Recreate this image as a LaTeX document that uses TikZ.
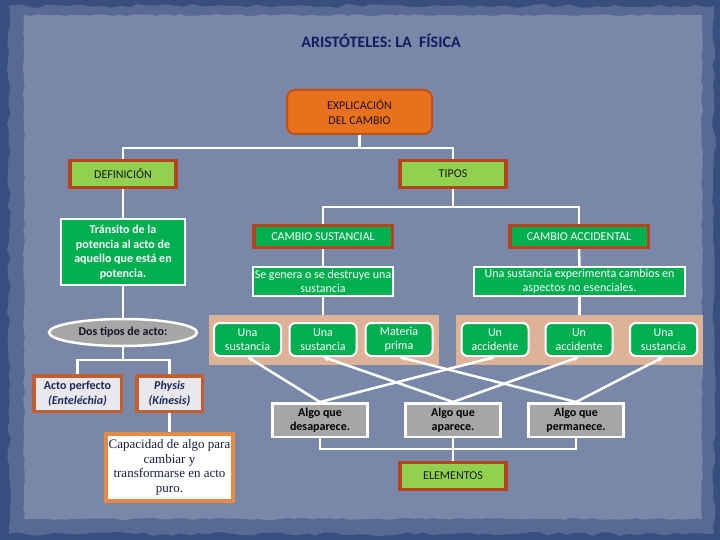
\documentclass[tikz,border=0pt]{standalone}
\usepackage{fontspec}
\setmainfont{Carlito}
\newfontfamily\serifcap{Liberation Serif}
\usetikzlibrary{arrows.meta,shapes.geometric,decorations.pathmorphing}

\begin{document}
\begin{tikzpicture}[x=1pt,y=1pt,yscale=-1,
  every node/.style={inner sep=1pt,align=center,font=\fontsize{12}{14.5}\selectfont},
  conn/.style={draw=white,line width=2.5},
  link/.style={conn,-{Stealth[length=6pt,width=5pt]}},
  headbox/.style={draw={rgb,255:red,184;green,68;blue,28},line width=3.5,fill={rgb,255:red,146;green,208;blue,80},text={rgb,255:red,25;green,25;blue,25},minimum width=106,minimum height=27},
  typebox/.style={headbox,fill={rgb,255:red,0;green,176;blue,80},text=white,minimum width=138.5,minimum height=21.5},
  greenbox/.style={draw=white,line width=2,fill={rgb,255:red,0;green,176;blue,80},text=white,inner sep=0.5pt},
  itembox/.style={greenbox,rounded corners=6,minimum width=67,minimum height=33,inner sep=0pt},
  panel/.style={fill={rgb,255:red,222;green,178;blue,150},minimum height=50},
  greybox/.style={draw=white,line width=2.5,fill={rgb,255:red,166;green,166;blue,166},font=\fontsize{12}{14.5}\selectfont\bfseries,minimum width=95,minimum height=33.5},
  actobox/.style={draw={rgb,255:red,196;green,94;blue,46},line width=3.5,fill={rgb,255:red,232;green,232;blue,238},text={rgb,255:red,28;green,40;blue,90},font=\fontsize{12}{14.5}\selectfont\bfseries,minimum height=35.5}]
\useasboundingbox (0,0) rectangle (720,540);
\pgfmathsetseed{3}

%Shape: Background
\fill[fill={rgb,255:red,56;green,78;blue,126}] (0,0) rectangle (720,540);
\fill[fill={rgb,255:red,88;green,106;blue,148},decorate,decoration={random steps,segment length=9,amplitude=2}] (9,6) rectangle (714,534);
\fill[fill={rgb,255:red,121;green,135;blue,168},decorate,decoration={random steps,segment length=6,amplitude=1}] (24,15) rectangle (702,519);

% Text Node
\node (title) at (381,41) [text={rgb,255:red,18;green,28;blue,96},font=\fontsize{16}{19}\selectfont\bfseries] {ARISTÓTELES: LA~~FÍSICA};

%Shape: Rounded Rectangle
\node (explic) at (359.5,112) [draw={rgb,255:red,196;green,80;blue,20},line width=2,fill={rgb,255:red,232;green,113;blue,29},rounded corners=8,minimum width=145,minimum height=44,text={rgb,255:red,30;green,20;blue,20}] {EXPLICACIÓN\\DEL CAMBIO};

%Shape: Rectangle
\node (def) at (123,174) [headbox] {DEFINICIÓN};
\node (tipos) at (453,174) [headbox] {TIPOS};
\node (transito) at (123,252) [greenbox,font=\fontsize{12}{14.5}\selectfont\bfseries,minimum width=124,minimum height=65] {Tránsito de la\\potencia al acto de\\aquello que está en\\potencia.};

%Shape: Ellipse
\node (dos) at (123,332.5) [ellipse,draw=white,line width=2.5,fill={rgb,255:red,166;green,166;blue,166},minimum width=148,minimum height=27,inner sep=0pt,text={rgb,255:red,20;green,20;blue,40},font=\fontsize{12}{14.5}\selectfont\bfseries] {Dos tipos de acto:};

%Shape: Rectangle
\node (acto) at (77.5,393.5) [actobox,minimum width=87.5] {Acto perfecto\\\textit{(Enteléchia)}};
\node (physis) at (169.5,393.5) [actobox,minimum width=65.5] {\textit{Physis}\\\textit{(Kínesis)}};
\node (capac) at (169.5,467.5) [draw={rgb,255:red,228;green,140;blue,70},line width=4,fill=white,minimum width=127,minimum height=67,text={rgb,255:red,20;green,30;blue,70},font=\serifcap\fontsize{13}{14.5}\selectfont] {Capacidad de algo para\\cambiar y\\transformarse en acto\\puro.};

\node (sust) at (323,236.5) [typebox] {CAMBIO SUSTANCIAL};
\node (acc) at (579,236.5) [typebox] {CAMBIO ACCIDENTAL};
\node (segen) at (323,281.5) [greenbox,minimum width=140,minimum height=29] {Se genera o se destruye una\\sustancia};
\node (exper) at (579.5,281.5) [greenbox,minimum width=211,minimum height=29] {Una sustancia experimenta cambios en\\aspectos no esenciales.};

%Shape: Panels
\node (panelA) at (324,340) [panel,minimum width=230] {};
\node (panelB) at (579.5,340) [panel,minimum width=247] {};

%Shape: Rounded Rectangle
\node (sustA) at (247.5,339.5) [itembox] {Una\\sustancia};
\node (sustB) at (323,339.5) [itembox] {Una\\sustancia};
\node (materia) at (399,339.5) [itembox] {Materia\\prima};
\node (accA) at (495,339.5) [itembox] {Un\\accidente};
\node (accB) at (579,339.5) [itembox] {Un\\accidente};
\node (sustC) at (663.5,339.5) [itembox] {Una\\sustancia};

%Shape: Rectangle
\node (desap) at (320,420) [greybox] {Algo que\\desaparece.};
\node (apar) at (453,420) [greybox] {Algo que\\aparece.};
\node (perm) at (576,420) [greybox] {Algo que\\permanece.};
\node (elem) at (453,476) [headbox] {ELEMENTOS};

%Straight Lines
\coordinate (busA) at (359.5,148);
\coordinate (busB) at (453,207);
\coordinate (busC) at (123,360);
\coordinate (busD) at (453,449);
\draw[conn] (explic.south) -- (busA);
\draw[conn] (def.north) |- (busA) -| (tipos.north);
\draw[conn] (def.south) -- (transito.north);
\draw[conn] (transito.south) -- (dos.north);
\draw[conn] (dos.south) -- (busC);
\draw[conn] (acto.north) |- (busC) -| (physis.north);
\draw[conn] (physis.south) -- (capac.north);
\draw[conn] (tipos.south) -- (busB);
\draw[conn] (sust.north) |- (busB) -| (acc.north);
\draw[conn] (sust.south) -- (segen.north);
\draw[conn] (acc.south) -- (exper.north);
\draw[conn] (segen.south) -- (segen.south |- panelA.north);
\draw[conn] (exper.south) -- (exper.south |- panelB.north);
\draw[link] (desap.north) -- (sustA.south);
\draw[link] (desap.north) -- (accA.south);
\draw[link] (apar.north) -- (sustB.south);
\draw[link] (apar.north) -- (accB.south);
\draw[link] (perm.north) -- (materia.south);
\draw[link] (perm.north) -- (sustC.south);
\draw[conn] (desap.south) |- (busD) -| (perm.south);
\draw[conn] (apar.south) -- (elem.north);
\end{tikzpicture}
\end{document}
